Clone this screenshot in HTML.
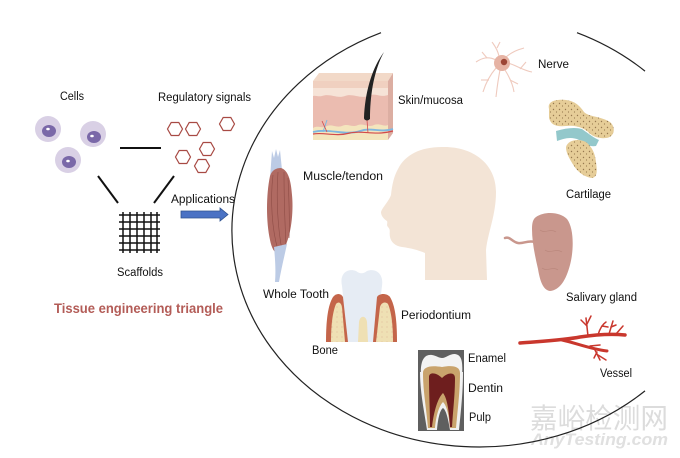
<!DOCTYPE html>
<html><head><meta charset="utf-8">
<style>
html,body{margin:0;padding:0;background:#fff;}
svg{display:block;}
text{font-family:"Liberation Sans","Noto Sans CJK SC",sans-serif;font-size:11.5px;fill:#111;}
</style></head>
<body>
<svg width="680" height="458" viewBox="0 0 680 458" xmlns="http://www.w3.org/2000/svg">
<defs>
<pattern id="dots" width="6" height="6" patternUnits="userSpaceOnUse">
<rect width="6" height="6" fill="#e6cd98"/>
<circle cx="1.5" cy="1.5" r="0.7" fill="#97794f"/>
<circle cx="4.5" cy="4" r="0.6" fill="#97794f"/>
</pattern>
<pattern id="bdots" width="5" height="5" patternUnits="userSpaceOnUse">
<rect width="5" height="5" fill="#efe0b4"/>
<circle cx="2" cy="2" r="0.5" fill="#d9a890"/>
</pattern>
</defs>

<!-- watermark -->
<text x="530" y="428" textLength="138" lengthAdjust="spacingAndGlyphs" style="font-family:'Noto Sans CJK SC','WenQuanYi Zen Hei',sans-serif;font-size:28px;fill:#dcdcdc;">嘉峪检测网</text>
<text x="531" y="445" textLength="137" lengthAdjust="spacingAndGlyphs" style="font-size:17px;font-style:italic;font-weight:bold;fill:#e0e0e0;">AnyTesting.com</text>

<!-- big ellipse -->
<path d="M381,32.7 A247,216 0 1,0 645,390.9" fill="none" stroke="#222" stroke-width="1.2"/>
<path d="M577,32.7 A247,216 0 0,1 645,71.1" fill="none" stroke="#222" stroke-width="1.2"/>

<!-- Cells -->
<text x="60" y="100" textLength="24" lengthAdjust="spacingAndGlyphs">Cells</text>
<circle cx="48" cy="129" r="13" fill="#d9d0e5"/>
<ellipse cx="49" cy="131" rx="7" ry="6" fill="#7a68a8"/>
<ellipse cx="48" cy="129" rx="1.8" ry="1.3" fill="#fff"/>
<circle cx="93" cy="134" r="13" fill="#d9d0e5"/>
<ellipse cx="94" cy="137" rx="7" ry="6" fill="#7a68a8"/>
<ellipse cx="92" cy="136" rx="1.8" ry="1.3" fill="#fff"/>
<circle cx="68" cy="160" r="13" fill="#d9d0e5"/>
<ellipse cx="69" cy="162" rx="7" ry="6" fill="#7a68a8"/>
<ellipse cx="68" cy="161" rx="1.8" ry="1.3" fill="#fff"/>

<!-- Regulatory signals -->
<text x="158" y="101" textLength="93" lengthAdjust="spacingAndGlyphs">Regulatory signals</text>
<g fill="none" stroke="#a84a44" stroke-width="1.2">
<polygon points="182.5,129 178.8,135.5 171.2,135.5 167.5,129 171.2,122.5 178.8,122.5"/>
<polygon points="200.5,129 196.8,135.5 189.2,135.5 185.5,129 189.2,122.5 196.8,122.5"/>
<polygon points="234.5,124 230.8,130.5 223.2,130.5 219.5,124 223.2,117.5 230.8,117.5"/>
<polygon points="214.5,149 210.8,155.5 203.2,155.5 199.5,149 203.2,142.5 210.8,142.5"/>
<polygon points="190.5,157 186.8,163.5 179.2,163.5 175.5,157 179.2,150.5 186.8,150.5"/>
<polygon points="209.5,166 205.8,172.5 198.2,172.5 194.5,166 198.2,159.5 205.8,159.5"/>
</g>

<!-- triangle lines -->
<g stroke="#111" stroke-width="2">
<line x1="120" y1="148" x2="161" y2="148"/>
<line x1="98" y1="176" x2="118" y2="203"/>
<line x1="174" y1="176" x2="154" y2="203"/>
</g>

<!-- Scaffold grid -->
<g stroke="#111" stroke-width="1.5">
<line x1="119" y1="215" x2="160" y2="215"/>
<line x1="119" y1="222" x2="160" y2="222"/>
<line x1="119" y1="229" x2="160" y2="229"/>
<line x1="119" y1="236" x2="160" y2="236"/>
<line x1="119" y1="243" x2="160" y2="243"/>
<line x1="119" y1="250" x2="160" y2="250"/>
<line x1="123" y1="212" x2="123" y2="253"/>
<line x1="130" y1="212" x2="130" y2="253"/>
<line x1="137" y1="212" x2="137" y2="253"/>
<line x1="144" y1="212" x2="144" y2="253"/>
<line x1="151" y1="212" x2="151" y2="253"/>
<line x1="157" y1="212" x2="157" y2="253"/>
</g>
<text x="117" y="276" textLength="46" lengthAdjust="spacingAndGlyphs">Scaffolds</text>

<!-- Applications -->
<text x="171" y="203" textLength="64" lengthAdjust="spacingAndGlyphs">Applications</text>
<polygon points="181,211 220,211 220,208 228,214.5 220,221 220,218 181,218" fill="#4a72c4" stroke="#2f528f" stroke-width="0.8"/>

<text x="54" y="313" textLength="169" lengthAdjust="spacingAndGlyphs" style="font-size:14px;font-weight:bold;fill:#b35c57;">Tissue engineering triangle</text>

<!-- Skin block -->
<polygon points="313,81 319,73 393,73 388,81" fill="#f2d9c8"/>
<polygon points="388,81 393,73 393,133 388,140" fill="#dcaea2"/>
<rect x="313" y="81" width="75" height="59" fill="#ebbcb0"/>
<rect x="313" y="81" width="75" height="8" fill="#f0d0c0"/>
<path d="M313,88 L388,88 L388,95 C380,98 375,92 368,96 C360,99 352,93 345,96 C337,99 330,93 322,96 C318,97 315,95 313,96 Z" fill="#f6e3d7"/>
<path d="M313,128 C318,125 322,129 327,126 C332,124 336,128 342,126 C348,123 352,128 358,125 C364,123 368,128 374,125 C380,123 384,127 388,125 L388,140 L313,140 Z" fill="#f4e5bd"/>
<path d="M313,132 C330,128 345,136 360,131 C372,127 380,133 393,129" fill="none" stroke="#7fb8e0" stroke-width="1.8"/>
<path d="M313,134 C325,132 335,137 350,133 C362,130 375,136 393,131" fill="none" stroke="#d24a4a" stroke-width="1.2"/>
<line x1="323" y1="132" x2="327" y2="120" stroke="#7fb8e0" stroke-width="1"/>
<line x1="327" y1="132" x2="322" y2="121" stroke="#d24a4a" stroke-width="0.8"/>
<line x1="368" y1="133" x2="367" y2="120" stroke="#d24a4a" stroke-width="0.8"/>
<path d="M384,52 C372,68 365,92 364,118 L370,119 C370,95 374,70 384,52 Z" fill="#222"/>
<ellipse cx="367" cy="118" rx="3" ry="2.5" fill="#222"/>
<text x="398" y="104" textLength="65" lengthAdjust="spacingAndGlyphs">Skin/mucosa</text>

<!-- Nerve -->
<g stroke="#efcabe" stroke-width="1.1" fill="none">
<path d="M496,60 C488,56 482,58 476,62"/>
<path d="M487,58 L482,52"/>
<path d="M499,56 C497,48 494,45 492,42"/>
<path d="M497,48 L500,42"/>
<path d="M506,57 C512,52 517,50 524,48"/>
<path d="M508,63 C516,65 522,70 532,72"/>
<path d="M520,69 L526,62"/>
<path d="M505,70 C510,78 513,85 514,92"/>
<path d="M510,80 L518,84"/>
<path d="M500,70 C498,80 497,88 496,97"/>
<path d="M496,68 C490,75 486,82 483,92"/>
<path d="M489,80 L481,80"/>
</g>
<circle cx="502" cy="63" r="8" fill="#e6b3a4"/>
<circle cx="504" cy="62" r="3.2" fill="#9c4535"/>
<text x="538" y="68" textLength="31" lengthAdjust="spacingAndGlyphs">Nerve</text>

<!-- Cartilage -->
<path d="M549,109 C547,101 556,99 566,100 C575,101 580,106 584,112 C589,117 600,116 610,122 C616,127 615,137 606,138 C598,139 592,136 587,131 C581,127 575,125 566,126 C556,127 551,125 549,118 Z" fill="url(#dots)"/>
<path d="M556,131 C566,128 575,127 582,129 C589,134 594,138 599,140 L596,146 C590,147 584,144 579,140 C571,136 563,139 557,141 Z" fill="#93c8cb"/>
<path d="M566,147 C568,140 578,138 586,142 C592,147 595,153 596,162 C597,170 598,177 592,178 C584,177 578,172 574,166 C569,158 566,153 566,147 Z" fill="url(#dots)"/>
<text x="566" y="198" textLength="45" lengthAdjust="spacingAndGlyphs">Cartilage</text>

<!-- Muscle -->
<path d="M270,178 L272,151 L274,158 L276,149 L278,157 L280,150 L282,170 C277,170 273,173 270,178 Z" fill="#bccbe5"/>
<path d="M270,176 C266,195 266,222 270,240 C272,250 276,256 281,252 C290,244 294,215 292,195 C291,180 288,170 281,168 C276,168 272,170 270,176 Z" fill="#b06a62"/>
<g stroke="#8e4c46" stroke-width="0.6" fill="none">
<path d="M273,175 C270,200 272,230 278,250"/>
<path d="M278,172 C276,200 278,230 282,250"/>
<path d="M284,172 C284,200 285,225 286,245"/>
<path d="M288,178 C289,200 290,220 289,238"/>
</g>
<path d="M274,247 L287,244 C284,258 281,270 279,282 L275,282 C276,270 275,258 274,247 Z" fill="#bccbe5"/>
<text x="303" y="180" textLength="80" lengthAdjust="spacingAndGlyphs">Muscle/tendon</text>

<!-- Head -->
<path d="M442,147 C472,146 496,163 496,192 C496,215 488,232 486,250 L487,280 L425,280 L425,253 C418,250 410,248 402,247 C395,246 391,242 390,237 C389,232 391,230 388,227 C386,225 388,223 387,221 C384,219 381,216 381,212 C382,208 389,201 391,195 C392,185 394,176 398,169 C405,155 420,147 442,147 Z" fill="#f3e4d6"/>

<!-- Whole tooth -->
<path d="M342,286 C339,272 349,268 356,271 C360,274 363,274 367,271 C374,268 384,272 382,286 C380,302 378,322 377,342 L345,342 C344,322 344,302 342,286 Z" fill="#e6ecf4"/>
<path d="M326,342 C326,320 328,305 333,297 C336,293 341,293 343,297 L348,342 Z" fill="#c4654a"/>
<path d="M331,342 C331,323 333,311 336,304 C339,301 341,303 342,307 L345,342 Z" fill="url(#bdots)"/>
<path d="M397,342 C397,320 395,305 390,297 C387,293 379,293 377,297 L373,342 Z" fill="#c4654a"/>
<path d="M393,342 C393,323 391,311 388,304 C385,301 381,303 380,307 L376,342 Z" fill="url(#bdots)"/>
<path d="M358,342 L359,322 C360,315 366,315 367,322 L368,342 Z" fill="#efe0b4"/>
<text x="263" y="298" textLength="66" lengthAdjust="spacingAndGlyphs">Whole Tooth</text>
<text x="401" y="319" textLength="70" lengthAdjust="spacingAndGlyphs">Periodontium</text>
<text x="312" y="354" textLength="26" lengthAdjust="spacingAndGlyphs">Bone</text>

<!-- Tooth section -->
<rect x="418" y="350" width="46" height="81" fill="#5f5f5f"/>
<path d="M420,372 C420,392 424,410 427,430 L437,430 C438,418 440,410 443,408 C446,410 448,418 450,430 L459,430 C461,410 463,392 463,372 Z" fill="#f0f0f0"/>
<path d="M421,376 C420,361 424,354 432,355 C437,356 439,358 442,358 C446,358 449,354 455,354 C462,355 463,362 462,376 L462,386 L421,386 Z" fill="#f3f3f3"/>
<path d="M423,373 C423,367 430,365 442,367 C452,365 460,366 460,373 C460,391 458,406 456,428 L450,428 C449,416 447,406 443,402 C439,406 436,416 435,428 L428,428 C426,406 423,391 423,373 Z" fill="#c9a36c"/>
<path d="M429,377 C429,372 436,372 442,378 C448,372 455,372 455,378 C455,395 453,410 452,427 L450,427 C449,410 447,398 443,393 C438,398 434,410 432,427 L430,427 C430,410 429,395 429,377 Z" fill="#6e1e1e"/>
<text x="468" y="362" textLength="38" lengthAdjust="spacingAndGlyphs">Enamel</text>
<text x="468" y="392" textLength="35" lengthAdjust="spacingAndGlyphs">Dentin</text>
<text x="469" y="421" textLength="22" lengthAdjust="spacingAndGlyphs">Pulp</text>

<!-- Salivary gland -->
<path d="M505,238 C510,236 512,242 518,243 C524,244 527,240 535,242" fill="none" stroke="#c9978d" stroke-width="2.5" stroke-linecap="round"/>
<path d="M536,217 C545,211 560,212 567,219 C574,228 574,250 570,265 C566,280 560,290 550,291 C543,290 540,281 538,269 C535,256 532,242 532,229 C532,223 533,219 536,217 Z" fill="#c9978d"/>
<g fill="none" stroke="#b8857a" stroke-width="0.6">
<path d="M540,230 C545,234 550,228 556,232"/>
<path d="M545,250 C550,254 556,248 562,252"/>
<path d="M542,268 C547,272 553,266 558,270"/>
</g>
<text x="566" y="301" textLength="71" lengthAdjust="spacingAndGlyphs">Salivary gland</text>

<!-- Vessel -->
<g stroke="#c9372d" fill="none" stroke-linecap="round">
<path d="M520,343 C545,341 565,340 580,337 C600,334 615,334 625,335" stroke-width="3.5"/>
<path d="M562,340 C576,343 590,349 607,351" stroke-width="3"/>
<g stroke-width="1.5">
<path d="M588,336 L586,318"/>
<path d="M587,326 L581,320"/>
<path d="M587,324 L591,316"/>
<path d="M598,335 C600,328 603,324 606,322"/>
<path d="M602,326 L608,327"/>
<path d="M609,334 L613,321"/>
<path d="M611,327 L616,325"/>
<path d="M616,334 L623,326"/>
<path d="M590,346 L600,345"/>
<path d="M594,348 L600,360"/>
<path d="M598,355 L606,360"/>
<path d="M597,352 L594,358"/>
</g>
</g>
<text x="600" y="377" textLength="32" lengthAdjust="spacingAndGlyphs">Vessel</text>
</svg>
</body></html>
